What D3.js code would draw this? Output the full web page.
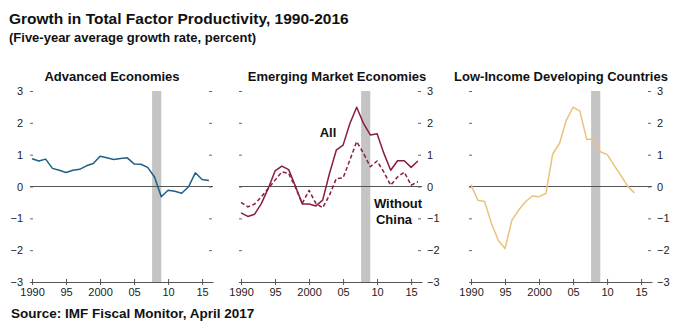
<!DOCTYPE html>
<html>
<head>
<meta charset="utf-8">
<script src="https://cdn.jsdelivr.net/npm/d3@7"></script>
<style>
  body { margin: 0; background: #fff; }
  svg { display: block; font-family: Arial, "Liberation Sans", sans-serif; }
  .tick text { font-family: "Liberation Sans Narrow", "Arial Narrow", "Liberation Sans", sans-serif; font-size: 11px; fill: #222; }
</style>
</head>
<body>
<div id="chart"></div>
<script>
// five-year average TFP growth, percent
var years = d3.range(1990, 2017);
var advanced = [0.87, 0.80, 0.86, 0.57, 0.51, 0.44, 0.51, 0.54, 0.65, 0.72, 0.95, 0.90, 0.85, 0.88, 0.90,
                0.71, 0.70, 0.60, 0.30, -0.32, -0.12, -0.15, -0.21, -0.01, 0.43, 0.22, 0.19];
var emAll = [-0.83, -0.94, -0.87, -0.53, -0.06, 0.49, 0.64, 0.53, 0.01, -0.55, -0.55, -0.61, -0.43, 0.41, 1.14,
             1.30, 1.98, 2.49, 1.98, 1.62, 1.66, 1.04, 0.51, 0.81, 0.81, 0.60, 0.80];
var emExChina = [-0.50, -0.64, -0.55, -0.32, -0.06, 0.20, 0.46, 0.41, -0.03, -0.53, -0.12, -0.53, -0.67, -0.27, 0.25,
                 0.27, 0.83, 1.41, 1.04, 0.62, 0.80, 0.45, 0.04, 0.30, 0.45, 0.04, 0.15];
var lidc = [0.06, -0.43, -0.47, -1.16, -1.69, -1.95, -1.06, -0.74, -0.48, -0.30, -0.32, -0.22, 1.02, 1.35, 2.08,
            2.49, 2.37, 1.48, 1.49, 1.09, 1.01, 0.67, 0.36, 0.02, -0.20];
var xTicks = [1990, 1995, 2000, 2005, 2010, 2015];
var xTickLabels = ["1990", "95", "2000", "05", "10", "15"];
var yTicks = [-3, -2, -1, 0, 1, 2, 3];
var crisis = [2007.65, 2009];

var W = 676, H = 323;
var svg = d3.select("#chart").append("svg").attr("width", W).attr("height", H);

svg.append("text").attr("x", 9).attr("y", 24)
  .attr("font-size", 15.5).attr("font-weight", "bold").attr("fill", "#111")
  .text("Growth in Total Factor Productivity, 1990-2016");
svg.append("text").attr("x", 9).attr("y", 42)
  .attr("font-size", 13).attr("font-weight", "bold").attr("fill", "#111")
  .text("(Five-year average growth rate, percent)");
svg.append("text").attr("x", 11).attr("y", 318)
  .attr("font-size", 13.5).attr("font-weight", "bold").attr("fill", "#111")
  .text("Source: IMF Fiscal Monitor, April 2017");

var panels = [
  { title: "Advanced Economies", x0: 30, titleX: 112, labels: "left",
    series: [{ values: advanced, color: "#1d5f86", dash: null }] },
  { title: "Emerging Market Economies", x0: 239, titleX: 337, labels: "right",
    series: [{ values: emAll, color: "#8a1c3c", dash: null },
             { values: emExChina, color: "#8a1c3c", dash: "4,2.5" }] },
  { title: "Low-Income Developing Countries", x0: 469, titleX: 561, labels: "right",
    series: [{ values: lidc, color: "#eac27a", dash: null }] }
];

var y = d3.scaleLinear().domain([-3, 3]).range([282, 91]);

panels.forEach(function(p) {
  var x = d3.scaleLinear().domain([1989.7, 2016.6]).range([p.x0, p.x0 + 183]);
  var g = svg.append("g");

  g.append("text").attr("x", p.titleX).attr("y", 81).attr("text-anchor", "middle")
    .attr("font-size", 13).attr("font-weight", "bold").attr("fill", "#111")
    .text(p.title);

  g.append("rect")
    .attr("x", x(crisis[0])).attr("y", y(3))
    .attr("width", x(crisis[1]) - x(crisis[0])).attr("height", y(-3) - y(3))
    .attr("fill", "#c4c4c4");

  // y ticks: short dashes on both sides, labels on one side
  var left = g.append("g").attr("transform", "translate(" + x.range()[0] + ",0)")
    .call(d3.axisLeft(y).tickValues(yTicks).tickSize(-3)
      .tickFormat(p.labels === "left" ? function(d) { return d < 0 ? "\u2212" + (-d) : d; } : ""));
  left.select(".domain").remove();
  left.selectAll(".tick line").attr("stroke", "#666");
  left.selectAll(".tick text").attr("x", -7);

  var right = g.append("g").attr("transform", "translate(" + (x.range()[1] - 1) + ",0)")
    .call(d3.axisRight(y).tickValues(yTicks).tickSize(-3)
      .tickFormat(p.labels === "right" ? function(d) { return d < 0 ? "\u2212" + (-d) : d; } : ""));
  right.select(".domain").remove();
  right.selectAll(".tick line").attr("stroke", "#666");
  right.selectAll(".tick text").attr("x", 6);

  // zero line
  g.append("line").attr("x1", x.range()[0]).attr("x2", x.range()[1])
    .attr("y1", y(0)).attr("y2", y(0)).attr("stroke", "#555").attr("stroke-width", 1.2);

  // x axis
  var xa = g.append("g").attr("transform", "translate(0," + y(-3) + ")")
    .call(d3.axisBottom(x).tickValues(xTicks).tickSizeInner(-3).tickSizeOuter(0).tickPadding(6)
      .tickFormat(function(d, i) { return xTickLabels[i]; }));
  xa.select(".domain").attr("stroke", "#555");
  xa.selectAll(".tick line").attr("stroke", "#555").attr("y1", 3);

  var line = d3.line()
    .x(function(d, i) { return x(years[i]); })
    .y(function(d) { return y(d); })
    .curve(d3.curveLinear);

  p.series.forEach(function(s) {
    g.append("path").datum(s.values)
      .attr("fill", "none").attr("stroke", s.color).attr("stroke-width", 1.5)
      .attr("stroke-dasharray", s.dash)
      .attr("stroke-linejoin", "round")
      .attr("d", line);
  });
});

// series labels in the EM panel
svg.append("text").attr("x", 328).attr("y", 137).attr("text-anchor", "middle")
  .attr("font-size", 13).attr("font-weight", "bold").attr("fill", "#111").text("All");
svg.append("text").attr("x", 398).attr("y", 208).attr("text-anchor", "middle")
  .attr("font-size", 13).attr("font-weight", "bold").attr("fill", "#111").text("Without");
svg.append("text").attr("x", 394).attr("y", 224).attr("text-anchor", "middle")
  .attr("font-size", 13).attr("font-weight", "bold").attr("fill", "#111").text("China");
</script>
</body>
</html>
